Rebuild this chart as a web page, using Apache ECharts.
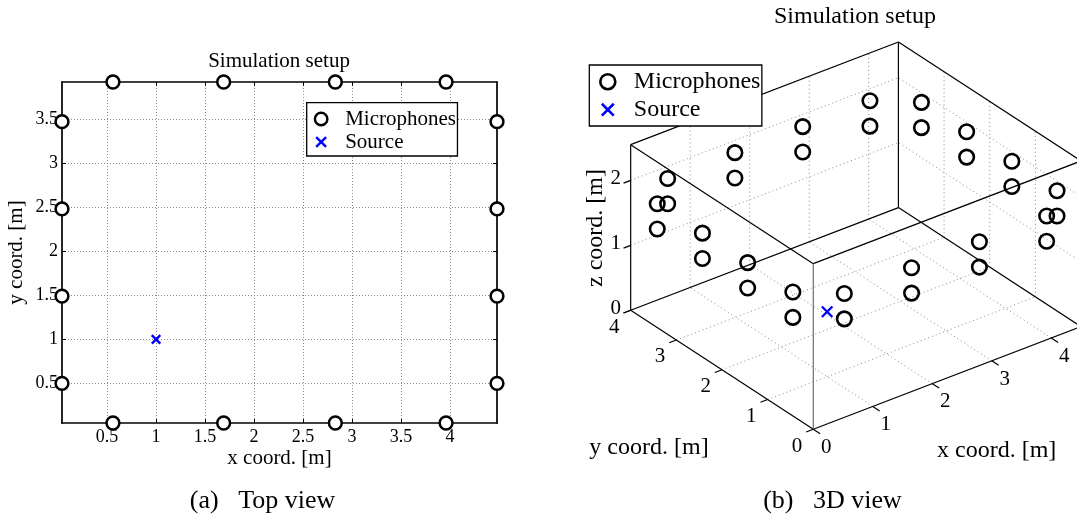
<!DOCTYPE html>
<html><head><meta charset="utf-8">
<script src="https://cdn.jsdelivr.net/npm/echarts@6/dist/echarts.min.js"></script>
<style>html,body{margin:0;padding:0;background:#fff}#c{width:1077px;height:516px}</style>
</head><body><div id="c"></div>
<script>
// ---------- Panel (a): top view data ----------
const micX = [0.56, 1.69, 2.83, 3.96, 0.56, 1.69, 2.83, 3.96, 0.04, 0.04, 0.04, 0.04, 4.48, 4.48, 4.48, 4.48];
const micY = [3.92, 3.92, 3.92, 3.92, 0.05, 0.05, 0.05, 0.05, 0.50, 1.49, 2.48, 3.47, 0.50, 1.49, 2.48, 3.47];
const srcX = [1.0];
const srcY = [1.0];
const topXTicks = [0.5, 1, 1.5, 2, 2.5, 3, 3.5, 4];
const topYTicks = [0.5, 1, 1.5, 2, 2.5, 3, 3.5];

// ---------- Panel (b): 3D view data ----------
const mic3X = [0.56, 0.56, 1.69, 1.69, 2.83, 2.83, 3.96, 3.96,
               0.56, 0.56, 1.69, 1.69, 2.83, 2.83, 3.96, 3.96,
               0.04, 0.04, 0.04, 0.04, 0.04, 0.04, 0.04, 0.04,
               4.48, 4.48, 4.48, 4.48, 4.48, 4.48, 4.48, 4.48];
const mic3Y = [3.92, 3.92, 3.92, 3.92, 3.92, 3.92, 3.92, 3.92,
               0.05, 0.05, 0.05, 0.05, 0.05, 0.05, 0.05, 0.05,
               0.50, 0.50, 1.49, 1.49, 2.48, 2.48, 3.47, 3.47,
               0.50, 0.50, 1.49, 1.49, 2.48, 2.48, 3.47, 3.47];
const mic3Z = [1.87, 1.48, 1.87, 1.48, 1.87, 1.48, 1.87, 1.48,
               1.87, 1.48, 1.87, 1.48, 1.87, 1.48, 1.87, 1.48,
               1.87, 1.48, 1.87, 1.48, 1.87, 1.48, 1.87, 1.48,
               1.87, 1.48, 1.87, 1.48, 1.87, 1.48, 1.87, 1.48];
const src3X = [1.0];
const src3Y = [1.0];
const src3Z = [1.0];
const lim3X = [0, 4.5];
const lim3Y = [0, 4];
const lim3Z = [0, 2.55];
const ticks3X = [0, 1, 2, 3, 4];
const ticks3Y = [0, 1, 2, 3, 4];
const ticks3Z = [0, 1, 2];

// ---------- helpers ----------
const FONT = 'Liberation Serif';
const AZ = 37.5 * Math.PI / 180, EL = 30 * Math.PI / 180;
function proj(x, y, z) {
  return [Math.cos(AZ) * x - Math.sin(AZ) * y,
          Math.sin(EL) * (Math.sin(AZ) * x + Math.cos(AZ) * y) + Math.cos(EL) * z];
}
// layout of the projected (hidden) plane of panel (b)
const G3 = {left: 540, top: 0, width: 537, height: 516};
const O3 = [813.3, 429.3];   // pixel of the 3D origin
const S3 = 75;               // pixels per metre
const uMin = (G3.left - O3[0]) / S3, uMax = (G3.left + G3.width - O3[0]) / S3;
const vMin = (O3[1] - (G3.top + G3.height)) / S3, vMax = (O3[1] - G3.top) / S3;

const [X0, X1] = lim3X, [Y0, Y1] = lim3Y, [Z0, Z1] = lim3Z;
const boxEdges = [
  [X0,Y0,Z0, X1,Y0,Z0], [X0,Y0,Z0, X0,Y1,Z0], [X0,Y1,Z0, X1,Y1,Z0], [X1,Y0,Z0, X1,Y1,Z0],
  [X0,Y0,Z1, X1,Y0,Z1], [X0,Y0,Z1, X0,Y1,Z1], [X0,Y1,Z1, X1,Y1,Z1], [X1,Y0,Z1, X1,Y1,Z1],
  [X0,Y1,Z0, X0,Y1,Z1], [X1,Y1,Z0, X1,Y1,Z1], [X1,Y0,Z0, X1,Y0,Z1]
];
const frontEdge = [[X0,Y0,Z0, X0,Y0,Z1]];
const gridSegs = [];
ticks3X.filter(v => v > X0 && v < X1).forEach(x => { gridSegs.push([x,Y0,Z0, x,Y1,Z0]); gridSegs.push([x,Y1,Z0, x,Y1,Z1]); });
ticks3Y.filter(v => v > Y0 && v < Y1).forEach(y => { gridSegs.push([X0,y,Z0, X1,y,Z0]); gridSegs.push([X1,y,Z0, X1,y,Z1]); });
ticks3Z.filter(v => v > Z0 && v < Z1).forEach(z => { gridSegs.push([X0,Y1,z, X1,Y1,z]); gridSegs.push([X1,Y0,z, X1,Y1,z]); });
const tickSegs = [];
ticks3X.forEach(x => tickSegs.push([x,Y0,Z0, x,Y0-0.15,Z0]));
ticks3Y.forEach(y => tickSegs.push([X0,y,Z0, X0-0.12,y,Z0]));
ticks3Z.forEach(z => tickSegs.push([X0,Y1,z, X0-0.12,Y1,z]));

function segSeries(name, data, style, z) {
  return {
    type: 'custom', name, xAxisIndex: 2, yAxisIndex: 2, silent: true, z, animation: false, data,
    renderItem(params, api) {
      const a = api.coord(proj(api.value(0), api.value(1), api.value(2)));
      const b = api.coord(proj(api.value(3), api.value(4), api.value(5)));
      return {type: 'line', shape: {x1: a[0], y1: a[1], x2: b[0], y2: b[1]},
              style: Object.assign({fill: null}, style)};
    }
  };
}
function labelSeries(name, pts, texts, dx, dy, size) {
  return {
    type: 'custom', name, xAxisIndex: 2, yAxisIndex: 2, silent: true, z: 3, animation: false, data: pts,
    renderItem(params, api) {
      const p = api.coord(proj(api.value(0), api.value(1), api.value(2)));
      return {type: 'text', x: p[0] + dx, y: p[1] + dy,
              style: {text: texts[params.dataIndex], fontFamily: FONT, fontSize: size, fill: '#000',
                      align: 'center', verticalAlign: 'middle', textAlign: 'center', textVerticalAlign: 'middle'}};
    }
  };
}

const CROSS = 'path://M0,0L10,10M10,0L0,10';
const CROSS_LEG = 'path://M-1.3,-1.3M0,0L10,10M10,0L0,10M11.3,11.3';

const axisLineStyle = {color: '#000', width: 1.7};
const dotted = {color: '#8a8a8a', width: 1, type: [1, 2]};

function txt(text, x, y, size, rot) {
  return {type: 'text', x, y, rotation: rot || 0, silent: true,
          style: {text, fontFamily: FONT, fontSize: size, fill: '#000',
                  align: 'center', verticalAlign: 'middle', textAlign: 'center', textVerticalAlign: 'middle'}};
}

const option = {
  animation: false,
  backgroundColor: '#fff',
  grid: [
    {left: 62, top: 82, width: 435, height: 341, outerBoundsMode: 'none', containLabel: false},
    {left: G3.left, top: G3.top, width: G3.width, height: G3.height, outerBoundsMode: 'none', containLabel: false}
  ],
  xAxis: [
    {gridIndex: 0, type: 'value', position: 'bottom', min: Math.min(...micX), max: Math.max(...micX),
     axisLine: {onZero: false, lineStyle: axisLineStyle},
     axisTick: {inside: true, length: 4, customValues: topXTicks, lineStyle: {color: '#000', width: 1}},
     axisLabel: {customValues: topXTicks, color: '#000', fontFamily: FONT, fontSize: 18, margin: 5, hideOverlap: false},
     splitLine: {show: true, lineStyle: dotted},
     name: 'x coord. [m]', nameLocation: 'middle', nameGap: 25, nameMoveOverlap: false,
     nameTextStyle: {color: '#000', fontFamily: FONT, fontSize: 21}},
    {gridIndex: 0, type: 'value', position: 'top', min: Math.min(...micX), max: Math.max(...micX),
     axisLine: {onZero: false, lineStyle: axisLineStyle},
     axisTick: {inside: true, length: 4, customValues: topXTicks, lineStyle: {color: '#000', width: 1}},
     axisLabel: {show: false}, splitLine: {show: false}},
    {gridIndex: 1, type: 'value', min: uMin, max: uMax, show: false, splitLine: {show: false}}
  ],
  yAxis: [
    {gridIndex: 0, type: 'value', position: 'left', min: Math.min(...micY), max: Math.max(...micY),
     axisLine: {onZero: false, lineStyle: axisLineStyle},
     axisTick: {inside: true, length: 4, customValues: topYTicks, lineStyle: {color: '#000', width: 1}},
     axisLabel: {customValues: topYTicks, color: '#000', fontFamily: FONT, fontSize: 18, margin: 4, hideOverlap: false},
     splitLine: {show: true, lineStyle: dotted},
     name: 'y coord. [m]', nameLocation: 'middle', nameGap: 35, nameMoveOverlap: false,
     nameTextStyle: {color: '#000', fontFamily: FONT, fontSize: 21}},
    {gridIndex: 0, type: 'value', position: 'right', min: Math.min(...micY), max: Math.max(...micY),
     axisLine: {onZero: false, lineStyle: axisLineStyle},
     axisTick: {inside: true, length: 4, customValues: topYTicks, lineStyle: {color: '#000', width: 1}},
     axisLabel: {show: false}, splitLine: {show: false}},
    {gridIndex: 1, type: 'value', min: vMin, max: vMax, show: false, splitLine: {show: false}}
  ],
  legend: [
    {orient: 'vertical', left: 306.7, top: 102.7, padding: [4.8, 1.5, 2.5, 7],
     itemWidth: 38, itemHeight: 12.5, itemGap: 0, selectedMode: false,
     backgroundColor: '#fff', borderColor: '#000', borderWidth: 1.3, borderRadius: 0,
     itemStyle: {borderWidth: 2.4},
     textStyle: {color: '#000', fontFamily: FONT, fontSize: 21, lineHeight: 23},
     data: [{name: 'Microphones', icon: 'circle'}, {name: 'Source', icon: CROSS_LEG}]},
    {orient: 'vertical', left: 589.3, top: 65, padding: [2.7, 1.4, 2.3, 9.7],
     itemWidth: 42, itemHeight: 15, itemGap: 0, selectedMode: false,
     backgroundColor: '#fff', borderColor: '#000', borderWidth: 1.3, borderRadius: 0,
     itemStyle: {borderWidth: 2.6},
     textStyle: {color: '#000', fontFamily: FONT, fontSize: 24, lineHeight: 28},
     data: [{name: 'Microphones', icon: 'circle'}, {name: 'Source', icon: CROSS_LEG}]}
  ],
  graphic: [
    txt('Simulation setup', 279, 61, 21),
    txt('Simulation setup', 855, 17, 24),
    txt('(a)\u2002 Top view', 262.5, 501, 26),
    txt('(b)\u2002 3D view', 832.5, 501, 26),
    txt('x coord. [m]', 996.7, 450.5, 24),
    txt('y coord. [m]', 649, 447.5, 24),
    txt('z coord. [m]', 596, 228, 24, Math.PI / 2)
  ],
  series: [
    {type: 'scatter', name: 'Microphones', xAxisIndex: 0, yAxisIndex: 0, z: 3, silent: true,
     data: micX.map((x, i) => [x, micY[i]]), symbol: 'circle', symbolSize: 12.8,
     itemStyle: {color: '#fff', borderColor: '#000', borderWidth: 2.5, opacity: 1}, emphasis: {disabled: true}},
    {type: 'scatter', name: 'Source', xAxisIndex: 0, yAxisIndex: 0, z: 3, silent: true,
     data: srcX.map((x, i) => [x, srcY[i]]), symbol: CROSS, symbolSize: 8.5,
     itemStyle: {color: 'rgba(0,0,0,0)', borderColor: '#0000ff', borderWidth: 2.4, opacity: 1}, emphasis: {disabled: true}},
    segSeries('grid3d', gridSegs, {stroke: '#8a8a8a', lineWidth: 1, lineDash: [1, 3]}, 1),
    segSeries('box3d', boxEdges, {stroke: '#000', lineWidth: 1.2}, 2),
    segSeries('front3d', frontEdge, {stroke: '#6f6f6f', lineWidth: 1.2}, 2),
    segSeries('ticks3d', tickSegs, {stroke: '#000', lineWidth: 1.2}, 2),
    labelSeries('xlabels3d', ticks3X.map(v => [v, Y0, Z0]), ticks3X.map(String), 13, 18.3, 21),
    labelSeries('ylabels3d', ticks3Y.map(v => [X0, v, Z0]), ticks3Y.map(String), -16.3, 16.8, 21),
    labelSeries('zlabels3d', ticks3Z.map(v => [X0, Y1, v]), ticks3Z.map(String), -15, -2.3, 21),
    {type: 'scatter', name: 'Microphones', xAxisIndex: 2, yAxisIndex: 2, z: 4, silent: true,
     data: mic3X.map((x, i) => proj(x, mic3Y[i], mic3Z[i])), symbol: 'circle', symbolSize: 14.5,
     itemStyle: {color: 'rgba(0,0,0,0)', borderColor: '#000', borderWidth: 2.6, opacity: 1}, emphasis: {disabled: true}},
    {type: 'scatter', name: 'Source', xAxisIndex: 2, yAxisIndex: 2, z: 4, silent: true,
     data: src3X.map((x, i) => proj(x, src3Y[i], src3Z[i])), symbol: CROSS, symbolSize: 10.5,
     itemStyle: {color: 'rgba(0,0,0,0)', borderColor: '#0000ff', borderWidth: 2.4, opacity: 1}, emphasis: {disabled: true}}
  ]
};
const chart = echarts.init(document.getElementById('c'), null, {renderer: 'canvas'});
chart.setOption(option);
</script>
</body></html>
